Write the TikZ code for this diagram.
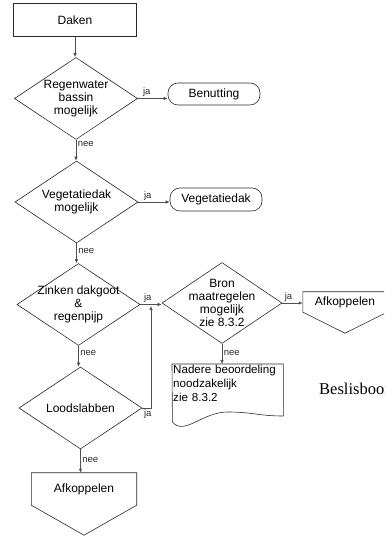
\documentclass[tikz,border=0pt]{standalone}
\usepackage{fontspec}
\setmainfont{Liberation Sans}
\newfontfamily\captionserif{Liberation Serif}
\usepackage{tikz}
\usetikzlibrary{arrows.meta, shapes.geometric}
\definecolor{fcline}{HTML}{2A2A2A}
\definecolor{fcarrow}{HTML}{505050}

\begin{document}
\begin{tikzpicture}[
  x=1pt, y=1pt,
  box/.style={draw=fcline, line width=0.6pt, minimum width=123pt, minimum height=33pt, align=center, font=\fontsize{12}{13}\selectfont},
  decision/.style={draw=fcline, line width=0.6pt, diamond, inner sep=0pt, minimum width=123pt, minimum height=82pt},
  dtext/.style={align=center, font=\fontsize{12}{13}\selectfont},
  term/.style={draw=fcline, line width=0.6pt, rounded corners=10pt, minimum width=92pt, minimum height=22pt, font=\fontsize{12}{13}\selectfont},
  plain/.style={inner sep=0pt, align=center, font=\fontsize{12}{13}\selectfont},
  outline/.style={draw=fcline, line width=0.6pt},
  lbl/.style={font=\fontsize{9.5}{11}\selectfont, inner sep=1.5pt, text=fcline},
  arr/.style={-{Latex[length=4pt, width=3.5pt]}, fcarrow, line width=0.6pt}
]
  \useasboundingbox (0,0) rectangle (384,537);
  \clip (0,0) rectangle (384,537);

  % main column
  \node[box] (daken) at (75,517) {Daken};
  \node[decision, label={[dtext]center:Regenwater\\bassin\\mogelijk}] (regen) at (76,438.5) {};
  \node[decision, label={[dtext]center:Vegetatiedak\\mogelijk}] (veg) at (76.5,335) {};
  \node[decision, label={[dtext]center:Zinken dakgoot\\\&\\regenpijp}] (zinken) at (78.5,232.5) {};
  \node[decision, label={[dtext]center:Loodslabben}] (lood) at (80.5,129) {};
  \node[plain, minimum width=105pt, minimum height=32pt] (afkB) at (84,48) {\raisebox{-4pt}{Afkoppelen}};

  % right side
  \node[term] (benut) at (214,443) {Benutting};
  \node[term, minimum height=23pt] (vegdak) at (216,337.5) {Vegetatiedak};
  \node[decision, minimum width=120pt, minimum height=81pt, label={[dtext]center:Bron\\maatregelen\\mogelijk\\zie 8.3.2}] (bron) at (222,234) {};
  \node[plain, minimum width=84pt, minimum height=20pt] (afkA) at (345,235) {Afkoppelen};
  \node[plain, anchor=north west, align=left, text width=109pt, inner sep=1pt, font=\fontsize{11.6}{14}\selectfont] (nadere) at (172,173) {Nadere beoordeling\\noodzakelijk\\zie 8.3.2};
  \node[anchor=west, inner sep=0pt, font=\captionserif\fontsize{16.5}{18}\selectfont] (titel) at (319,148) {Beslisboom};

  \coordinate (merge) at (151,232.5);

  % shapes drawn by hand
  \draw[outline] (afkB.north west) -- (afkB.north east) -- (afkB.south east) -- ([yshift=-30pt]afkB.south) -- (afkB.south west) -- cycle;
  \draw[outline] (afkA.north west) -- (afkA.north east) -- (afkA.south east) -- ([yshift=-21pt]afkA.south) -- (afkA.south west) -- cycle;
  \draw[outline] (nadere.north west) -- (nadere.north east) -- ++(0,-52)
    .. controls +(-25,0) and +(25,0) .. ++(-56,4)
    .. controls +(-25,0) and +(12,-14) .. ++(-55,-10) -- cycle;

  % connectors
  \draw[arr] (daken.south) -- (daken.south |- regen.north);
  \draw[arr] (regen.east) -- node[lbl, above, pos=0.3] {ja} (regen.east -| benut.west);
  \draw[arr] (regen.south) -- node[lbl, right, pos=0.2] {nee} (regen.south |- veg.north);
  \draw[arr] (veg.east) -- node[lbl, above, pos=0.3] {ja} (veg.east -| vegdak.west);
  \draw[arr] (veg.south) -- node[lbl, right, pos=0.4] {nee} (veg.south |- zinken.north);
  \draw[arr] (zinken.east) -- node[lbl, above, pos=0.35] {ja} (zinken.east -| bron.west);
  \draw[arr] (zinken.south) -- node[lbl, right, pos=0.35] {nee} (zinken.south |- lood.north);
  \draw[arr] (lood.south) -- node[lbl, right, pos=0.45] {nee} (lood.south |- afkB.north);
  \draw[arr, shorten >=1.5pt] (lood.east) -| node[lbl, below right, pos=0] {ja} (merge);
  \draw[arr] (bron.east) -- node[lbl, above, pos=0.3] {ja} (bron.east -| afkA.west);
  \draw[arr] (bron.south) -- node[lbl, right, pos=0.45] {nee} (bron.south |- nadere.north);
\end{tikzpicture}
\end{document}
